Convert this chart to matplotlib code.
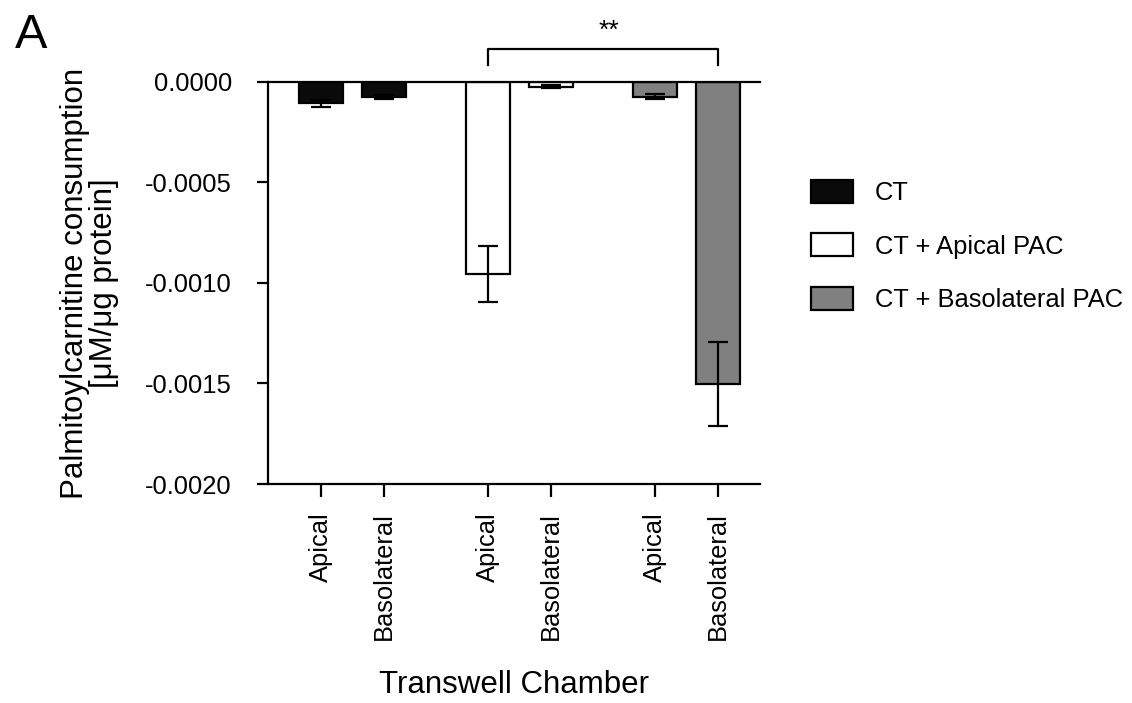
import matplotlib
matplotlib.use('Agg')
import matplotlib.pyplot as plt
from matplotlib.patches import Patch
import numpy as np

plt.rcParams['font.family'] = ['Liberation Sans', 'DejaVu Sans']

# data
groups = ['CT', 'CT + Apical PAC', 'CT + Basolateral PAC']
chambers = ['Apical', 'Basolateral']
means = [
    [-0.000106, -0.000073],   # CT
    [-0.000955, -0.000023],   # CT + Apical PAC
    [-0.000073, -0.001502],   # CT + Basolateral PAC
]
errs = [
    [0.000017, 0.000010],
    [0.000138, 0.000008],
    [0.000012, 0.000210],
]
yticks = [0.0, -0.0005, -0.0010, -0.0015, -0.0020]
ytick_labels = ['0.0000', '-0.0005', '-0.0010', '-0.0015', '-0.0020']
sig_label = '**'

face_colors = ['#0a0a0a', 'white', '#808080']
group_start = [0.0, 2.65, 5.3]
bar_w = 0.7

fig = plt.figure(figsize=(11.32, 7.03), dpi=100)
ax = fig.add_axes([0.2367, 0.3115, 0.4347, 0.572])

xpos = []
xlabels = []
for g in range(len(groups)):
    for c in range(len(chambers)):
        x = group_start[g] + c
        ax.bar(x, means[g][c], width=bar_w, color=face_colors[g],
               edgecolor='black', linewidth=1.6, zorder=2)
        ax.errorbar(x, means[g][c], yerr=errs[g][c], fmt='none',
                    ecolor='black', elinewidth=1.6, capsize=7.5,
                    capthick=1.6, zorder=3)
        xpos.append(x)
        xlabels.append(chambers[c])

ax.set_xlim(-0.84, 6.97)
ax.set_ylim(-0.0020, 0.0)
ax.set_yticks(yticks)
ax.set_yticklabels(ytick_labels)
ax.set_xticks(xpos)
ax.set_xticklabels(xlabels, rotation=90, va='top', ha='center')

ax.spines['right'].set_visible(False)
for s in ['left', 'bottom', 'top']:
    ax.spines[s].set_linewidth(1.6)
ax.spines['top'].set_zorder(4)
ax.tick_params(axis='y', direction='out', length=8, width=1.6,
               labelsize=18.4, pad=18)
ax.tick_params(axis='x', direction='out', length=9, width=1.6,
               labelsize=18.4, pad=11)

ax.set_ylabel('Palmitoylcarnitine consumption\n[\u03bcM/\u03bcg protein]',
              fontsize=22.5, labelpad=19, linespacing=0.95)
ax.set_xlabel('Transwell Chamber', fontsize=22.5, labelpad=22)

# significance bracket between apical PAC / apical and basolateral PAC / basolateral
x1, x2 = xpos[2], xpos[5]
y_top, y_tick = 0.000164, 0.000085
ax.plot([x1, x1, x2, x2], [y_tick, y_top, y_top, y_tick], color='black',
        linewidth=1.6, clip_on=False)
ax.text((x1 + x2) / 2 + 0.1, y_top + 0.00003, sig_label, ha='center',
        va='bottom', fontsize=19)

handles = [Patch(facecolor=face_colors[i], edgecolor='black', linewidth=1.6,
                 label=groups[i]) for i in range(len(groups))]
fig.legend(handles=handles, loc='center left',
           bbox_to_anchor=(0.696, 0.65), frameon=False, fontsize=18.4,
           handlelength=1.65, handleheight=1.0, handletextpad=0.85,
           labelspacing=1.1)

fig.text(0.013, 0.932, 'A', fontsize=35)

fig.savefig('out.png', dpi=100)
